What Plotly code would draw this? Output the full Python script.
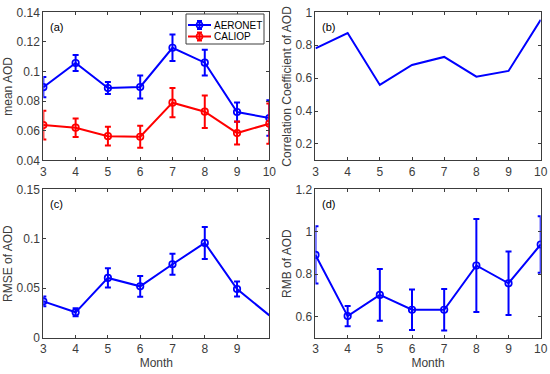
import plotly.graph_objects as go

months = [3, 4, 5, 6, 7, 8, 9, 10]

# (a) mean AOD
aeronet_mean = [0.0895, 0.1058, 0.0889, 0.0896, 0.1161, 0.1060, 0.0727, 0.0686]
aeronet_err = [0.0068, 0.0054, 0.0040, 0.0078, 0.0089, 0.0087, 0.0065, 0.0120]
caliop_mean = [0.0639, 0.0621, 0.0564, 0.0560, 0.0790, 0.0729, 0.0585, 0.0648]
caliop_err = [0.0097, 0.0062, 0.0063, 0.0074, 0.0099, 0.0110, 0.0078, 0.0136]

# (b) correlation coefficient
corr = [0.781, 0.874, 0.559, 0.680, 0.729, 0.609, 0.644, 0.955]

# (c) RMSE
rmse = [0.0368, 0.0257, 0.0605, 0.0520, 0.0743, 0.0959, 0.0493, 0.0226]
rmse_err = [0.0050, 0.0040, 0.0097, 0.0105, 0.0106, 0.0162, 0.0076, None]

# (d) RMB
rmb = [0.891, 0.602, 0.702, 0.632, 0.632, 0.841, 0.757, 0.940]
rmb_err = [0.135, 0.048, 0.122, 0.096, 0.098, 0.220, 0.150, 0.133]

series_names = ["AERONET", "CALIOP"]

BLUE = "#0000FF"
RED = "#FF0000"
AX = "#3c3c3c"
FONT = "Liberation Sans, Arial, sans-serif"
W, H = 550, 374

fig = go.Figure()

def err(arr):
    return dict(type="data", array=[a if a is not None else float("nan") for a in arr],
                visible=True, thickness=2, width=3)

mk = dict(symbol="circle-open", size=6.5, line=dict(width=1.7))

fig.add_trace(go.Scatter(x=months, y=aeronet_mean, error_y=dict(err(aeronet_err), color=BLUE),
                         mode="lines+markers", line=dict(color=BLUE, width=2),
                         marker=dict(mk, color=BLUE), name=series_names[0], xaxis="x", yaxis="y"))
fig.add_trace(go.Scatter(x=months, y=caliop_mean, error_y=dict(err(caliop_err), color=RED),
                         mode="lines+markers", line=dict(color=RED, width=2),
                         marker=dict(mk, color=RED), name=series_names[1], xaxis="x", yaxis="y"))
fig.add_trace(go.Scatter(x=months, y=corr, mode="lines", line=dict(color=BLUE, width=2),
                         xaxis="x2", yaxis="y2"))
fig.add_trace(go.Scatter(x=months[:-1], y=rmse[:-1], error_y=dict(err(rmse_err[:-1]), color=BLUE),
                         mode="markers", marker=dict(mk, color=BLUE),
                         xaxis="x3", yaxis="y3"))
fig.add_trace(go.Scatter(x=months, y=rmse, mode="lines", line=dict(color=BLUE, width=2),
                         xaxis="x3", yaxis="y3"))
fig.add_trace(go.Scatter(x=months, y=rmb, error_y=dict(err(rmb_err), color=BLUE),
                         mode="lines+markers", line=dict(color=BLUE, width=2),
                         marker=dict(mk, color=BLUE), xaxis="x4", yaxis="y4"))

left = [0.0788, 0.4897]
right = [0.5736, 0.9831]
top = [0.571, 0.967]
bottom = [0.097, 0.4935]

def xax(dom, anchor, tickvals, title=None):
    d = dict(domain=dom, anchor=anchor, range=[3, 10], tickvals=tickvals,
             ticktext=[str(v) for v in tickvals], automargin=False,
             showline=True, linecolor=AX, linewidth=1, mirror="ticks", ticks="inside",
             ticklen=3, tickcolor=AX, showgrid=False, zeroline=False,
             tickfont=dict(size=12, color=AX, family=FONT))
    if title:
        d["title"] = dict(text=title, font=dict(size=12, color=AX, family=FONT), standoff=3)
    return d

def yax(dom, anchor, rng, tickvals, ticktext, title):
    return dict(domain=dom, anchor=anchor, range=rng, tickvals=tickvals, ticktext=ticktext,
                automargin=False,
                showline=True, linecolor=AX, linewidth=1, mirror="ticks", ticks="inside",
                ticklen=3, tickcolor=AX, showgrid=False, zeroline=False,
                tickfont=dict(size=12, color=AX, family=FONT),
                title=dict(text=title, font=dict(size=12, color=AX, family=FONT), standoff=1))

fig.update_layout(
    width=W, height=H, margin=dict(l=0, r=0, t=0, b=0, pad=0, autoexpand=False),
    paper_bgcolor="white", plot_bgcolor="white",
    font=dict(family=FONT, color=AX),
    showlegend=False,
    xaxis=xax(left, "y", months),
    yaxis=yax(top, "x", [0.04, 0.14], [0.04, 0.06, 0.08, 0.1, 0.12, 0.14],
              ["0.04", "0.06", "0.08", "0.1", "0.12", "0.14"], "mean AOD"),
    xaxis2=xax(right, "y2", months),
    yaxis2=yax(top, "x2", [0.1, 1.0], [0.2, 0.4, 0.6, 0.8, 1.0],
               ["0.2", "0.4", "0.6", "0.8", "1"], "Correlation Coefficient of AOD"),
    xaxis3=xax(left, "y3", months[:-1], "Month"),
    yaxis3=yax(bottom, "x3", [0, 0.15], [0, 0.05, 0.1, 0.15],
               ["0", "0.05", "0.1", "0.15"], "RMSE of AOD"),
    xaxis4=xax(right, "y4", months, "Month"),
    yaxis4=yax(bottom, "x4", [0.5, 1.2], [0.6, 0.8, 1.0, 1.2],
               ["0.6", "0.8", "1", "1.2"], "RMB of AOD"),
)

# Legend box for panel (a), placed in pixel-based paper coordinates
def px(x):
    return x / W

def py(y):
    return 1 - y / H

shapes = [dict(type="rect", xref="paper", yref="paper", x0=px(186), x1=px(264),
               y0=py(44), y1=py(14), line=dict(color=AX, width=1), fillcolor="white", layer="above")]
for name, col, yc in [(series_names[0], BLUE, 25), (series_names[1], RED, 36.5)]:
    shapes.append(dict(type="line", xref="paper", yref="paper", x0=px(188), x1=px(211),
                       y0=py(yc), y1=py(yc), line=dict(color=col, width=2), layer="above"))
    shapes.append(dict(type="line", xref="paper", yref="paper", x0=px(199.5), x1=px(199.5),
                       y0=py(yc - 4), y1=py(yc + 4), line=dict(color=col, width=2), layer="above"))
    for dy in (-4, 4):
        shapes.append(dict(type="line", xref="paper", yref="paper", x0=px(197), x1=px(202),
                           y0=py(yc + dy), y1=py(yc + dy), line=dict(color=col, width=2), layer="above"))
    shapes.append(dict(type="circle", xref="paper", yref="paper", x0=px(196.5), x1=px(202.5),
                       y0=py(yc + 3), y1=py(yc - 3), line=dict(color=col, width=1.6), layer="above"))
    fig.add_annotation(text=name, xref="paper", yref="paper", x=px(212), y=py(yc),
                       xanchor="left", yanchor="middle", showarrow=False,
                       font=dict(size=10, color="black", family=FONT))
fig.update_layout(shapes=shapes)

labels = [("(a)", "x domain", "y domain"), ("(b)", "x2 domain", "y2 domain"),
          ("(c)", "x3 domain", "y3 domain"), ("(d)", "x4 domain", "y4 domain")]
for txt, xr, yr in labels:
    fig.add_annotation(text=txt, xref=xr, yref=yr, x=0.022, y=0.955, xanchor="left",
                       yanchor="top", showarrow=False,
                       font=dict(size=11, color="black", family=FONT))

fig.write_html("out.html", config={"displayModeBar": False},
               post_script="document.body.style.margin='0px';document.body.style.overflow='hidden';")
